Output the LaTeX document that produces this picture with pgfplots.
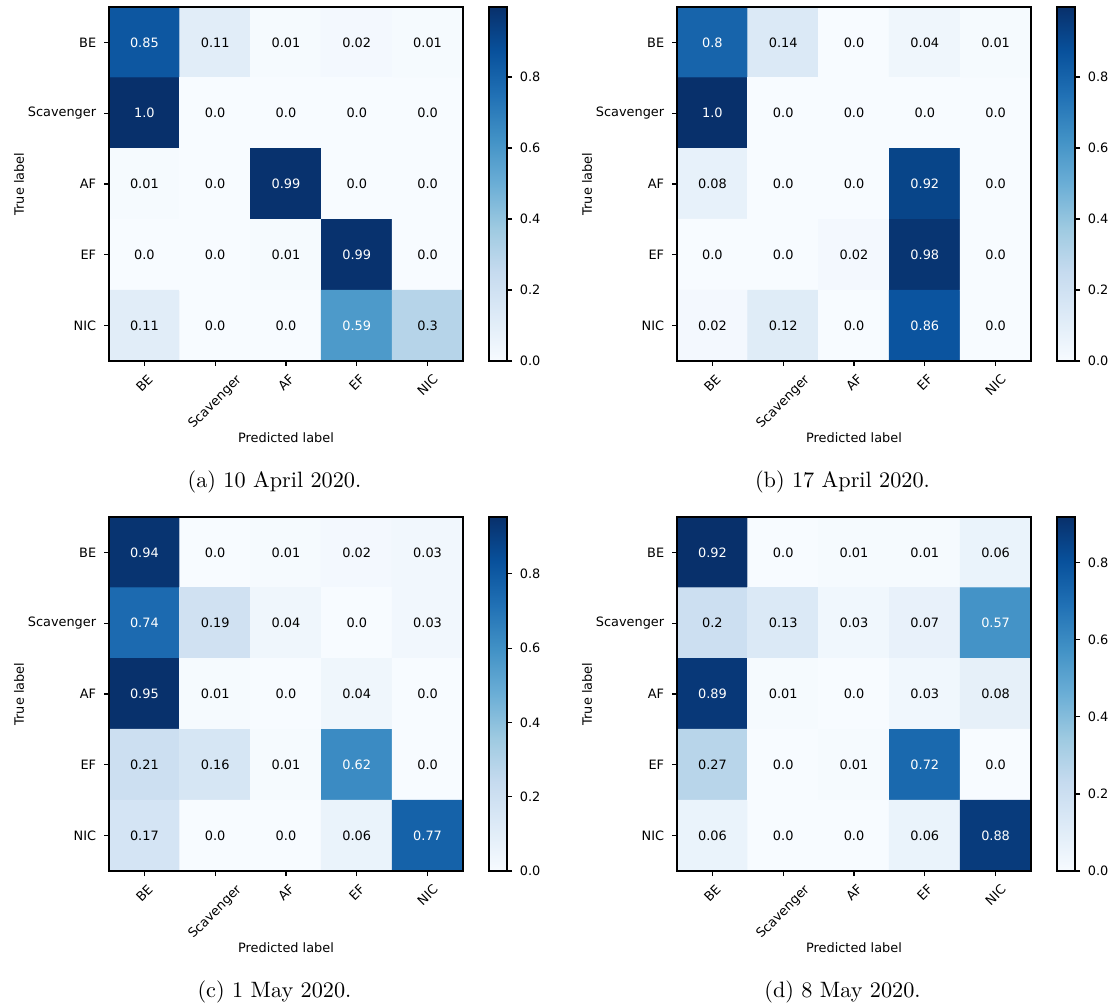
\documentclass[border=0pt]{standalone}
\usepackage{fontspec}
\usepackage{graphicx}
\usepackage{pgfplots}
\pgfplotsset{compat=1.18}
\usepackage{pgfplotstable}
\newfontfamily\mpl{DejaVu Sans}
\newcommand{\mplfont}{\mpl\fontsize{5.8}{7}\selectfont}

\pgfplotsset{
  cm/.style={
    scale only axis, width=159.3pt, height=159.3pt,
    xmin=-0.5, xmax=4.5, ymin=-0.5, ymax=4.5, y dir=reverse,
    axis on top,
    xtick={0,...,4}, ytick={0,...,4},
    xticklabels={\rotatebox{45}{BE},\rotatebox{45}{Scavenger},\rotatebox{45}{AF},\rotatebox{45}{EF},\rotatebox{45}{NIC}},
    yticklabels={BE,Scavenger,AF,EF,NIC},
    xticklabel style={anchor=north, font=\mplfont},
    yticklabel style={anchor=east, font=\mplfont},
    tick align=outside, xtick pos=bottom, ytick pos=left,
    major tick length=2.25pt,
    every tick/.style={black, line width=0.5pt},
    axis line style={line width=0.6pt},
    xlabel={Predicted label}, ylabel={True label},
    xlabel style={at={(axis description cs:0.5,-0.2175)}, anchor=center, font=\mplfont},
    ylabel style={at={(axis description cs:-0.2542,0.5)}, anchor=center, font=\mplfont},
    colormap={mplblues}{rgb255=(247,251,255) rgb255=(222,235,247) rgb255=(198,219,239) rgb255=(158,202,225) rgb255=(107,174,214) rgb255=(66,146,198) rgb255=(33,113,181) rgb255=(8,81,156) rgb255=(8,48,107)},
    colorbar,
    colorbar style={
      width=8.1pt,
      at={(parent axis.north east)}, anchor=north west, xshift=3.17pt,
      ytick={0,0.2,0.4,0.6,0.8},
      yticklabel style={font=\mplfont, /pgf/number format/.cd, fixed, fixed zerofill, precision=1, assume math mode=true},
      tick align=outside, major tick length=2.25pt,
      ytick pos=right, yticklabel pos=right,
      every tick/.style={black, line width=0.5pt},
      axis line style={line width=0.6pt},
    },
    point meta min=0,
  },
  lbl/.style={draw=none, mark=none, point meta=explicit symbolic,
    nodes near coords, nodes near coords align=center,
    every node near coord/.append style={font=\mplfont, anchor=center}},
  lblw/.style={lbl, restrict expr to domain={\thisrow{w}}{0.5:1.5},
    every node near coord/.append style={text=white}},
  lblk/.style={lbl, restrict expr to domain={\thisrow{w}}{-0.5:0.5},
    every node near coord/.append style={text=black}},
}

\pgfplotstableread{
x y c w
0 0 0.85 1
1 0 0.11 0
2 0 0.01 0
3 0 0.02 0
4 0 0.01 0
0 1 1.0 1
1 1 0.0 0
2 1 0.0 0
3 1 0.0 0
4 1 0.0 0
0 2 0.01 0
1 2 0.0 0
2 2 0.99 1
3 2 0.0 0
4 2 0.0 0
0 3 0.0 0
1 3 0.0 0
2 3 0.01 0
3 3 0.99 1
4 3 0.0 0
0 4 0.11 0
1 4 0.0 0
2 4 0.0 0
3 4 0.59 1
4 4 0.3 0
}\tabA

\pgfplotstableread{
x y c w
0 0 0.8 1
1 0 0.14 0
2 0 0.0 0
3 0 0.04 0
4 0 0.01 0
0 1 1.0 1
1 1 0.0 0
2 1 0.0 0
3 1 0.0 0
4 1 0.0 0
0 2 0.08 0
1 2 0.0 0
2 2 0.0 0
3 2 0.92 1
4 2 0.0 0
0 3 0.0 0
1 3 0.0 0
2 3 0.02 0
3 3 0.98 1
4 3 0.0 0
0 4 0.02 0
1 4 0.12 0
2 4 0.0 0
3 4 0.86 1
4 4 0.0 0
}\tabB

\pgfplotstableread{
x y c w
0 0 0.94 1
1 0 0.0 0
2 0 0.01 0
3 0 0.02 0
4 0 0.03 0
0 1 0.74 1
1 1 0.19 0
2 1 0.04 0
3 1 0.0 0
4 1 0.03 0
0 2 0.95 1
1 2 0.01 0
2 2 0.0 0
3 2 0.04 0
4 2 0.0 0
0 3 0.21 0
1 3 0.16 0
2 3 0.01 0
3 3 0.62 1
4 3 0.0 0
0 4 0.17 0
1 4 0.0 0
2 4 0.0 0
3 4 0.06 0
4 4 0.77 1
}\tabC

\pgfplotstableread{
x y c w
0 0 0.92 1
1 0 0.0 0
2 0 0.01 0
3 0 0.01 0
4 0 0.06 0
0 1 0.2 0
1 1 0.13 0
2 1 0.03 0
3 1 0.07 0
4 1 0.57 1
0 2 0.89 1
1 2 0.01 0
2 2 0.0 0
3 2 0.03 0
4 2 0.08 0
0 3 0.27 0
1 3 0.0 0
2 3 0.01 0
3 3 0.72 1
4 3 0.0 0
0 4 0.06 0
1 4 0.0 0
2 4 0.0 0
3 4 0.06 0
4 4 0.88 1
}\tabD

\begin{document}
\begin{tikzpicture}
\useasboundingbox (0,0) rectangle (499.95pt,-452.25pt);

\begin{axis}[cm, at={(49.05pt,-3.15pt)}, anchor=north west, point meta max=0.997]
\addplot[matrix plot*, mesh/cols=5, point meta=explicit] table[x=x,y=y,meta=c]{\tabA};
\addplot[lblw] table[x=x,y=y,meta=c]{\tabA};
\addplot[lblk] table[x=x,y=y,meta=c]{\tabA};
\end{axis}

\begin{axis}[cm, at={(304.65pt,-3.15pt)}, anchor=north west, point meta max=0.997]
\addplot[matrix plot*, mesh/cols=5, point meta=explicit] table[x=x,y=y,meta=c]{\tabB};
\addplot[lblw] table[x=x,y=y,meta=c]{\tabB};
\addplot[lblk] table[x=x,y=y,meta=c]{\tabB};
\end{axis}

\begin{axis}[cm, at={(49.05pt,-232.65pt)}, anchor=north west, point meta max=0.953]
\addplot[matrix plot*, mesh/cols=5, point meta=explicit] table[x=x,y=y,meta=c]{\tabC};
\addplot[lblw] table[x=x,y=y,meta=c]{\tabC};
\addplot[lblk] table[x=x,y=y,meta=c]{\tabC};
\end{axis}

\begin{axis}[cm, at={(304.65pt,-232.65pt)}, anchor=north west, point meta max=0.919]
\addplot[matrix plot*, mesh/cols=5, point meta=explicit] table[x=x,y=y,meta=c]{\tabD};
\addplot[lblw] table[x=x,y=y,meta=c]{\tabD};
\addplot[lblk] table[x=x,y=y,meta=c]{\tabD};
\end{axis}

\node[anchor=base, font=\fontsize{10}{12}\selectfont] at (123.5pt,-219.15pt) {(a) 10 April 2020.};
\node[anchor=base, font=\fontsize{10}{12}\selectfont] at (379.1pt,-219.15pt) {(b) 17 April 2020.};
\node[anchor=base, font=\fontsize{10}{12}\selectfont] at (123.5pt,-448.65pt) {(c) 1 May 2020.};
\node[anchor=base, font=\fontsize{10}{12}\selectfont] at (379.1pt,-448.65pt) {(d) 8 May 2020.};
\end{tikzpicture}
\end{document}
